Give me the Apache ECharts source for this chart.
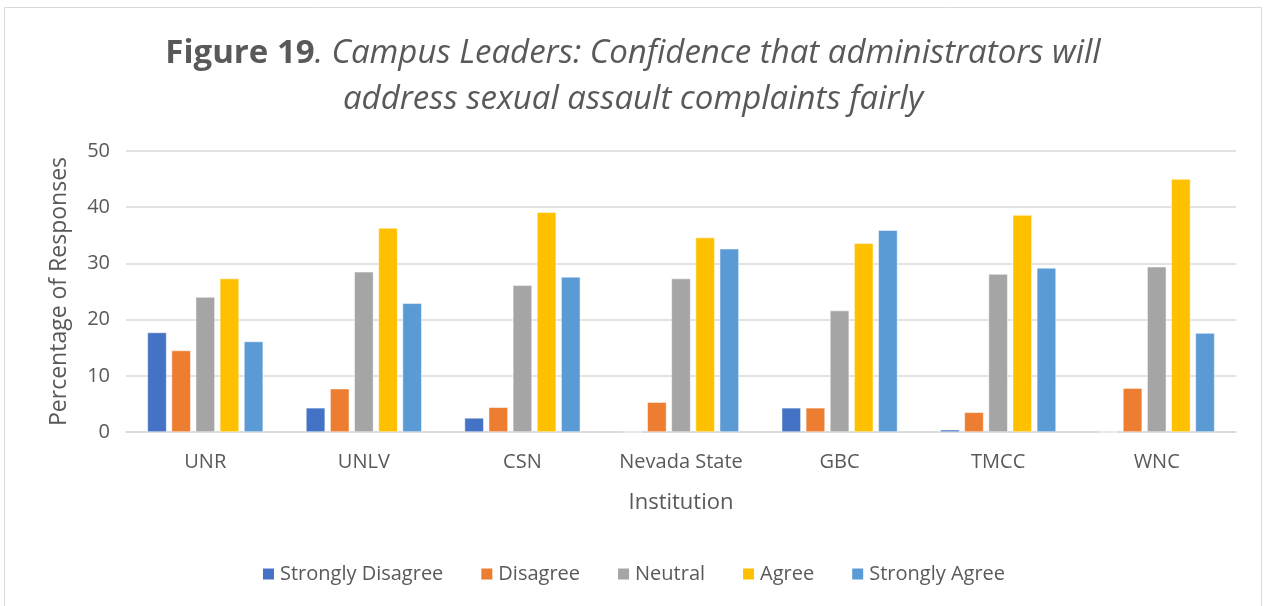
<!DOCTYPE html>
<html>
<head>
<meta charset="utf-8">
<script src="https://cdn.jsdelivr.net/npm/echarts@6/dist/echarts.min.js"></script>
<style>
  html, body { margin: 0; padding: 0; background: #fff; }
  #chart { width: 1266px; height: 606px; }
</style>
</head>
<body>
<div id="chart"></div>
<script>
var institutions = ['UNR', 'UNLV', 'CSN', 'Nevada State', 'GBC', 'TMCC', 'WNC'];
var stronglyDisagree = [17.7, 4.3, 2.5, 0, 4.3, 0.4, 0];
var disagree = [14.5, 7.7, 4.4, 5.3, 4.3, 3.5, 7.8];
var neutral = [24.0, 28.5, 26.1, 27.3, 21.6, 28.1, 29.4];
var agree = [27.3, 36.3, 39.1, 34.6, 33.6, 38.6, 45.0];
var stronglyAgree = [16.1, 22.9, 27.6, 32.6, 35.9, 29.2, 17.6];
var yTicks = [0, 10, 20, 30, 40, 50];

var font = '"Open Sans", Lato, sans-serif';
var textColor = '#595959';

function bar(name, data, color) {
    return {
        name: name,
        type: 'bar',
        data: data,
        barGap: '26%',
        barCategoryGap: '27%',
        itemStyle: { color: color, borderColor: '#fff', borderWidth: 0.5 }
    };
}

var option = {
    animation: false,
    textStyle: { fontFamily: font },
    graphic: [{
        type: 'rect',
        shape: { x: 4.5, y: 7.5, width: 1257, height: 620 },
        style: { fill: null, stroke: '#D9D9D9', lineWidth: 1 },
        silent: true
    }],
    title: [
        {
            left: 'center',
            top: 32,
            text: '{b|Figure 19}{i|. Campus Leaders: Confidence that administrators will}',
            textStyle: {
                rich: {
                    b: { fontFamily: font, fontSize: 33, fontWeight: 'bold', color: textColor },
                    i: { fontFamily: font, fontSize: 33, fontStyle: 'italic', fontWeight: 'normal', color: textColor }
                }
            }
        },
        {
            left: 'center',
            top: 78,
            text: 'address sexual assault complaints fairly',
            textStyle: { fontFamily: font, fontSize: 33, fontStyle: 'italic', fontWeight: 'normal', color: textColor }
        }
    ],
    legend: {
        bottom: 17,
        left: 'center',
        itemWidth: 13,
        itemHeight: 13,
        itemGap: 36,
        icon: 'rect',
        textStyle: { fontSize: 20, color: textColor, fontFamily: font },
        data: ['Strongly Disagree', 'Disagree', 'Neutral', 'Agree', 'Strongly Agree']
    },
    grid: { left: 126, right: 30, top: 151, bottom: 174 },
    xAxis: {
        type: 'category',
        data: institutions,
        name: 'Institution',
        nameLocation: 'middle',
        nameGap: 60,
        nameTextStyle: { fontSize: 22, color: textColor, fontFamily: font },
        axisLine: { lineStyle: { color: '#D9D9D9', width: 1.5 } },
        axisTick: { show: false },
        axisLabel: { interval: 0, fontSize: 20, color: textColor, margin: 20, fontFamily: font }
    },
    yAxis: {
        type: 'value',
        min: yTicks[0],
        max: yTicks[yTicks.length - 1],
        interval: 10,
        name: 'Percentage of Responses',
        nameLocation: 'middle',
        nameRotate: 90,
        nameGap: 55,
        nameTextStyle: { fontSize: 23, color: textColor, fontFamily: font },
        axisLabel: { fontSize: 20, color: textColor, margin: 16, fontFamily: font },
        splitLine: { lineStyle: { color: '#D9D9D9', width: 1.5 } },
        axisLine: { show: false },
        axisTick: { show: false }
    },
    series: [
        bar('Strongly Disagree', stronglyDisagree, '#4472C4'),
        bar('Disagree', disagree, '#ED7D31'),
        bar('Neutral', neutral, '#A5A5A5'),
        bar('Agree', agree, '#FFC000'),
        bar('Strongly Agree', stronglyAgree, '#5B9BD5')
    ]
};

var myChart = echarts.init(document.getElementById('chart'));
myChart.setOption(option);
</script>
</body>
</html>
